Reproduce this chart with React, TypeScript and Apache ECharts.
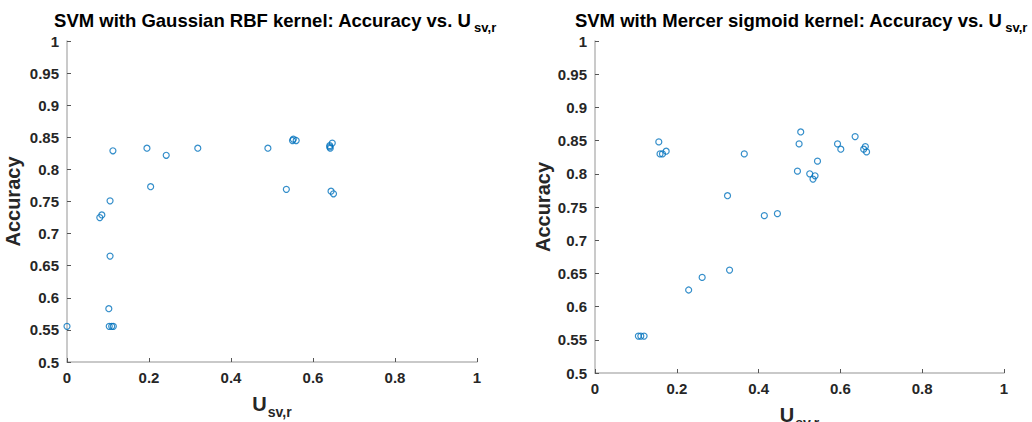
import React, { useEffect, useRef } from "react";
import * as echarts from "echarts";

// Left: Gaussian RBF kernel  [U_sv,r, Accuracy]
const rbfX = [0, 0.103, 0.109, 0.113, 0.102, 0.105, 0.080, 0.085, 0.105, 0.112, 0.195, 0.204, 0.242, 0.319, 0.490, 0.535, 0.552, 0.550, 0.559, 0.641, 0.647, 0.642, 0.641, 0.644, 0.650];
const rbfY = [0.5556, 0.5556, 0.5556, 0.5556, 0.583, 0.665, 0.725, 0.729, 0.751, 0.829, 0.833, 0.773, 0.822, 0.833, 0.833, 0.769, 0.847, 0.845, 0.845, 0.837, 0.841, 0.833, 0.835, 0.766, 0.762];

// Right: Mercer sigmoid kernel
const sigX = [0.106, 0.112, 0.120, 0.156, 0.159, 0.165, 0.174, 0.229, 0.262, 0.324, 0.329, 0.365, 0.414, 0.446, 0.495, 0.499, 0.503, 0.525, 0.533, 0.538, 0.544, 0.593, 0.601, 0.636, 0.657, 0.661, 0.664];
const sigY = [0.5556, 0.5556, 0.5556, 0.848, 0.830, 0.830, 0.834, 0.625, 0.644, 0.767, 0.655, 0.830, 0.737, 0.740, 0.804, 0.845, 0.863, 0.800, 0.792, 0.797, 0.819, 0.845, 0.837, 0.856, 0.837, 0.841, 0.833];

const titles = [
  "SVM with Gaussian RBF kernel: Accuracy vs. U",
  "SVM with Mercer sigmoid kernel: Accuracy vs. U",
];
const subscript = "sv,r";
const yName = "Accuracy";

const FONT = "'Liberation Sans', Arial, Helvetica, sans-serif";
const TXT = "#262626";
const BLUE = "#0072BD";

export default function App() {
  const ref = useRef<HTMLDivElement>(null);
  useEffect(() => {
    if (!ref.current) return;
    const chart = echarts.init(ref.current, undefined, { renderer: "svg" });
    const pair = (xs: number[], ys: number[]) => xs.map((x, i) => [x, ys[i]]);
    const mkX = (idx: number, gap: number) => ({
      type: "value" as const,
      gridIndex: idx,
      min: 0,
      max: 1,
      interval: 0.2,
      name: "{u|U}{s|" + subscript + "}",
      nameLocation: "middle" as const,
      nameGap: gap,
      nameTextStyle: {
        rich: {
          u: { fontSize: 20, fontWeight: "bold", color: TXT, fontFamily: FONT, lineHeight: 24 },
          s: { fontSize: 14, fontWeight: "bold", color: TXT, fontFamily: FONT, lineHeight: 24, padding: [15, 0, 0, 1] },
        },
      },
      axisLine: { show: true, lineStyle: { color: "#b8b8b8", width: 1.5 } },
      axisTick: { show: true, inside: true, length: 4, lineStyle: { color: "#555" } },
      axisLabel: { color: TXT, fontSize: 15, fontWeight: "bold", fontFamily: FONT, margin: 8, formatter: (v: number) => String(+v.toFixed(2)) },
      splitLine: { show: false },
    });
    const mkY = (idx: number, gap: number) => ({
      type: "value" as const,
      gridIndex: idx,
      min: 0.5,
      max: 1,
      interval: 0.05,
      name: yName,
      nameLocation: "middle" as const,
      nameGap: gap,
      nameTextStyle: { fontSize: 20, fontWeight: "bold", color: TXT, fontFamily: FONT },
      axisLine: { show: true, lineStyle: { color: "#b8b8b8", width: 1.5 } },
      axisTick: { show: true, inside: true, length: 4, lineStyle: { color: "#555" } },
      axisLabel: { color: TXT, fontSize: 15, fontWeight: "bold", fontFamily: FONT, margin: 8, formatter: (v: number) => String(+v.toFixed(2)) },
      splitLine: { show: false },
    });
    const mkTitle = (t: string, cx: number) => ({
      text: "{a|" + t + "}{b|" + subscript + "}",
      left: cx,
      top: 3,
      textAlign: "center" as const,
      textStyle: {
        rich: {
          a: { fontSize: 18.5, fontWeight: "bold", color: "#000", fontFamily: FONT, lineHeight: 24 },
          b: { fontSize: 13, fontWeight: "bold", color: "#000", fontFamily: FONT, lineHeight: 24, padding: [15, 0, 0, 3] },
        },
      },
    });
    const series = (idx: number, data: number[][]) => ({
      type: "scatter" as const,
      xAxisIndex: idx,
      yAxisIndex: idx,
      data,
      symbol: "circle",
      symbolSize: 6,
      itemStyle: { color: "rgba(0,0,0,0)", borderColor: BLUE, borderWidth: 1.2 },
    });
    chart.setOption({
      animation: false,
      backgroundColor: "#fff",
      title: [mkTitle(titles[0], 270), mkTitle(titles[1], 796)],
      grid: [
        { left: 67, top: 41, width: 410, height: 321, outerBoundsMode: "none", containLabel: false },
        { left: 595, top: 41, width: 409, height: 332, outerBoundsMode: "none", containLabel: false },
      ],
      xAxis: [mkX(0, 28), mkX(1, 26)],
      yAxis: [mkY(0, 44), mkY(1, 42)],
      series: [series(0, pair(rbfX, rbfY)), series(1, pair(sigX, sigY))],
    });
    return () => chart.dispose();
  }, []);
  return (
    <div
      ref={ref}
      style={{ position: "fixed", left: 0, top: 0, width: 1032, height: 422, background: "#fff" }}
    />
  );
}
